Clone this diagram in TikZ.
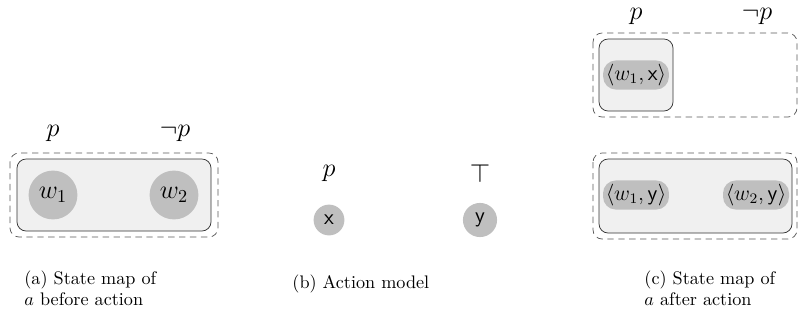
\documentclass[tikz,border=0pt]{standalone}
\usetikzlibrary{calc}

\tikzset{
  outerbox/.style={dash pattern=on 3.5pt off 2.5pt,draw=black!65,rounded corners=5pt},
  innerbox/.style={draw=black!80,fill=black!6,rounded corners=5pt},
  world/.style={circle,fill=black!25,font=\Large},
  event/.style={circle,fill=black!25,font=\large\sffamily},
  pair/.style={rounded corners=7pt,fill=black!25,font=\large,inner xsep=1.5pt,inner ysep=2pt},
  prop/.style={font=\Large,inner sep=1pt},
}

\begin{document}
\begin{tikzpicture}[x=0.55pt,y=-0.55pt]
\useasboundingbox (0,0) rectangle (798,322);
% (a) state map before action
\draw[outerbox] (10,153) rectangle (218,237);
\draw[innerbox] (17,159) rectangle (211,231);
\node[world] (w1) at (53,195) {$w_1$};
\node[world] (w2) at (174,195) {$w_2$};
\node[prop] (pa) at (53,133) {$p$};
\node[prop] (npa) at (175,133) {$\neg p$};
% (b) action model
\node[event] (x) at (329,220) {x};
\node[event] (y) at (480,220) {y};
\node[prop] (pb) at (329,173) {$p$};
\node[prop] (tb) at (480,173) {$\top$};
% (c) state map after action
\draw[outerbox] (593,33) rectangle (797,117);
\draw[innerbox] (599,39) rectangle (673,111);
\node[pair] (w1x) at (636,75) {$\langle w_1,\mathsf{x}\rangle$};
\draw[outerbox] (593,153) rectangle (797,239);
\draw[innerbox] (599,159) rectangle (792,233);
\node[pair] (w1y) at (636,195) {$\langle w_1,\mathsf{y}\rangle$};
\node[pair] (w2y) at (756,195) {$\langle w_2,\mathsf{y}\rangle$};
\node[prop] (pc) at (636,16) {$p$};
\node[prop] (npc) at (757,16) {$\neg p$};
% captions
\node[anchor=north west,align=left] (ca) at (18,264) {(a) State map of\\$a$ before action};
\node[anchor=west] (cb) at (286,284) {(b) Action model};
\node[anchor=north west,align=left] (cc) at (638,264) {(c) State map of\\$a$ after action};
\end{tikzpicture}
\end{document}
